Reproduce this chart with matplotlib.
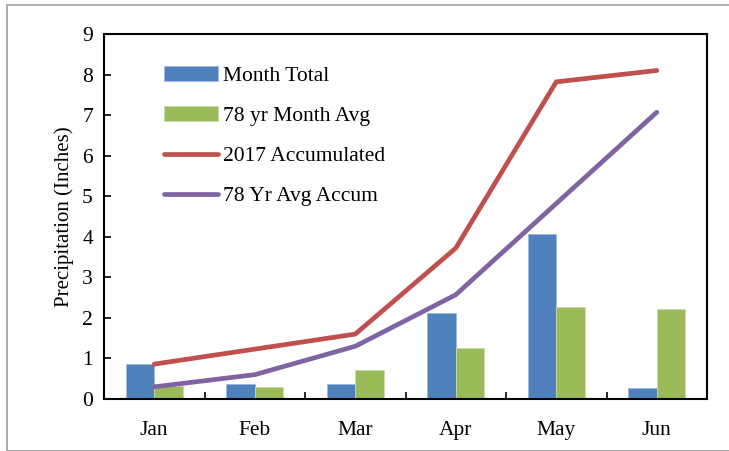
import matplotlib
matplotlib.use("Agg")
import matplotlib.pyplot as plt
import numpy as np
from matplotlib.patches import Rectangle

months = ["Jan", "Feb", "Mar", "Apr", "May", "Jun"]
month_total = [0.86, 0.38, 0.36, 2.12, 4.08, 0.28]
month_avg78 = [0.32, 0.29, 0.72, 1.26, 2.26, 2.23]
accum_2017 = [0.86, 1.23, 1.60, 3.72, 7.82, 8.10]
accum_avg78 = [0.30, 0.60, 1.30, 2.57, 4.82, 7.07]
yticks = list(range(0, 10))

plt.rcParams['font.family'] = ['Liberation Serif', 'DejaVu Serif']

fig = plt.figure(figsize=(7.29, 4.51), dpi=100)
ax = fig.add_axes([104/729, 1-399/451, (707-104)/729, (399-34)/451])

x = np.arange(len(months))
w = 0.285
b1 = ax.bar(x - w/2, month_total, w, color='#4F81BD', edgecolor='#9DB9DB', linewidth=0.6, label='Month Total', zorder=2)
b2 = ax.bar(x + w/2, month_avg78, w, color='#9BBB59', edgecolor='#C8DCA8', linewidth=0.6, label='78 yr Month Avg', zorder=2)
l1, = ax.plot(x, accum_2017, color='#C0504D', lw=3.4, solid_capstyle='round', label='2017 Accumulated', zorder=3)
l2, = ax.plot(x, accum_avg78, color='#8064A2', lw=3.4, solid_capstyle='round', label='78 Yr Avg Accum', zorder=3)

ax.set_xlim(-0.5, 5.5)
ax.set_ylim(0, 9)
ax.set_yticks(yticks)
ax.set_yticklabels([str(v) for v in yticks], fontsize=15.5)
ax.set_xticks(x)
ax.set_xticklabels(months, fontsize=15.5)
ax.tick_params(axis='x', which='major', length=0, pad=16)
ax.set_xticks(np.arange(0.5, 5.5, 1.0), minor=True)
ax.tick_params(axis='x', which='minor', direction='in', length=5, width=1.2)
ax.tick_params(axis='y', direction='in', length=5, width=1.2, pad=8)
for s in ax.spines.values():
    s.set_linewidth(1.5)
    s.set_color('black')
ax.set_ylabel('Precipitation (Inches)', fontsize=15, labelpad=6)

leg = ax.legend([b1, b2, l1, l2], [b1.get_label(), b2.get_label(), l1.get_label(), l2.get_label()],
                loc='upper left', bbox_to_anchor=(0.068, 0.965), frameon=False, fontsize=15.5,
                handlelength=2.5, handletextpad=0.2, labelspacing=0.93, handleheight=0.7)

fig.add_artist(Rectangle((7/729, 0), 1, 1-5/451, transform=fig.transFigure, fill=False,
                         edgecolor='#A0A0A0', linewidth=1.2))

fig.savefig('out.png', dpi=100)
